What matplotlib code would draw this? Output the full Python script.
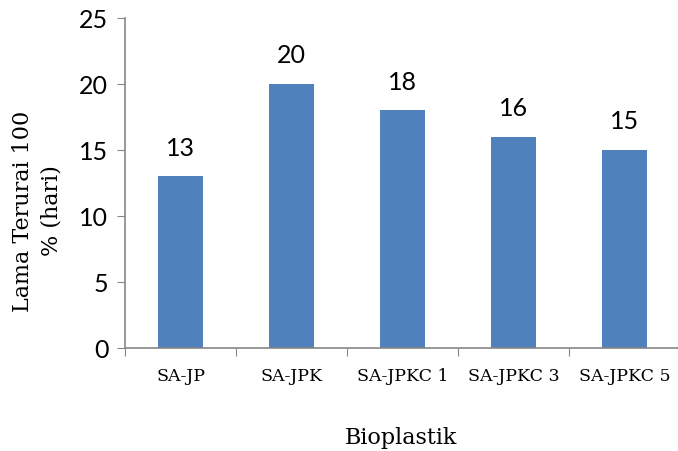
import matplotlib.pyplot as plt
import numpy as np

# Lama terurai bioplastik
kategori = ['SA-JP', 'SA-JPK', 'SA-JPKC 1', 'SA-JPKC 3', 'SA-JPKC 5']
hari = [13, 20, 18, 16, 15]

serif = ['DejaVu Serif']
sans = ['Lato', 'DejaVu Sans']
abu = '#868686'

fig = plt.figure(figsize=(6.78, 4.52), dpi=100)
ax = fig.add_axes([125/678, 1 - 349/452, 555/678, 330/452])

x = np.arange(len(kategori))
ax.bar(x, hari, width=0.4, color='#4F81BD')

for xi, h in zip(x, hari):
    ax.annotate(str(h), (xi, h), xytext=(0, 21), textcoords='offset points',
                ha='center', va='center', fontsize=18, family=sans)

ax.set_xlim(-0.5, len(kategori) - 0.5)
ax.set_ylim(0, 25)
ax.set_yticks(range(0, 26, 5))
ax.set_yticklabels([str(v) for v in range(0, 26, 5)], family=sans, fontsize=18)

# garis kategori di antara batang
ax.set_xticks(np.arange(-0.5, len(kategori)), minor=False)
ax.set_xticklabels([])
ax.set_xticks(x, minor=True)
ax.set_xticklabels(kategori, minor=True, family=serif, fontsize=12.5)
ax.tick_params(axis='x', which='major', direction='out', length=6, color=abu)
ax.tick_params(axis='x', which='minor', length=0, pad=14)
ax.tick_params(axis='y', direction='out', length=6, color=abu, pad=6)

for s in ['top', 'right']:
    ax.spines[s].set_visible(False)
for s in ['left', 'bottom']:
    ax.spines[s].set_color(abu)
    ax.spines[s].set_linewidth(1.2)

fig.text(37/678, 1 - 211/452, 'Lama Terurai 100\n% (hari)', rotation=90,
         ha='center', va='center', multialignment='center', linespacing=1.4,
         family=serif, fontsize=16)
fig.text(401/678, 1 - 438/452, 'Bioplastik', ha='center', va='center',
         family=serif, fontsize=16)

fig.savefig('out.png', dpi=100)
